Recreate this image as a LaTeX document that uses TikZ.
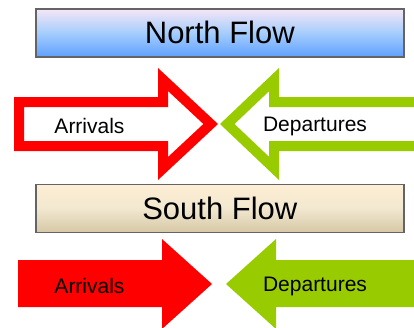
\documentclass[tikz,border=0pt]{standalone}
\usepackage{fontspec}
\setmainfont{Liberation Sans}
\definecolor{arrred}{HTML}{FF0000}
\definecolor{arrgreen}{HTML}{99CC00}
\definecolor{boxline}{HTML}{646464}
\begin{document}
\begin{tikzpicture}[x=1pt,y=-1pt,
  flowbox/.style={draw=boxline,line width=1.6pt,minimum width=368pt,minimum height=48pt,inner sep=0pt,font=\fontsize{31}{31}\selectfont},
  arrlabel/.style={font=\fontsize{21}{21}\selectfont,inner sep=0pt}]
\useasboundingbox (0,0) rectangle (414,327);
\clip (0,0) rectangle (414,327);
% North box
\node[flowbox,top color={rgb,255:red,246;green,230;blue,246},bottom color={rgb,255:red,96;green,160;blue,255},middle color={rgb,255:red,165;green,205;blue,252},anchor=north west] (north) at (35,8) {North Flow};
% South box
\node[flowbox,top color={rgb,255:red,253;green,238;blue,212},bottom color={rgb,255:red,214;green,200;blue,166},middle color={rgb,255:red,242;green,232;blue,208},anchor=north west] (south) at (35,183.5) {South Flow};
% North outline arrows
\begin{scope}
\clip (14,97) -- (158,97) -- (158,68) -- (218,124) -- (158,180) -- (158,151) -- (14,151) -- cycle;
\draw[arrred,line width=20pt,line join=miter] (14,97) -- (158,97) -- (158,68) -- (218,124) -- (158,180) -- (158,151) -- (14,151) -- cycle;
\end{scope}
\begin{scope}
\clip (430,97) -- (279,97) -- (279,68) -- (220,124) -- (279,180) -- (279,151) -- (430,151) -- cycle;
\draw[arrgreen,line width=20pt,line join=miter] (430,97) -- (279,97) -- (279,68) -- (220,124) -- (279,180) -- (279,151) -- (430,151) -- cycle;
\end{scope}
\node[arrlabel] (narr) at (89.5,126) {Arrivals};
\node[arrlabel] (ndep) at (315,126) {Departures};
% South filled arrows
\fill[arrred] (18,260) -- (162,260) -- (162,239) -- (212,284) -- (162,329) -- (162,307) -- (18,307) -- cycle;
\fill[arrgreen] (430,260) -- (276,260) -- (276,239) -- (226,284) -- (276,329) -- (276,307) -- (430,307) -- cycle;
\node[arrlabel] (sarr) at (89.5,286) {Arrivals};
\node[arrlabel] (sdep) at (315,286) {Departures};
\end{tikzpicture}
\end{document}
